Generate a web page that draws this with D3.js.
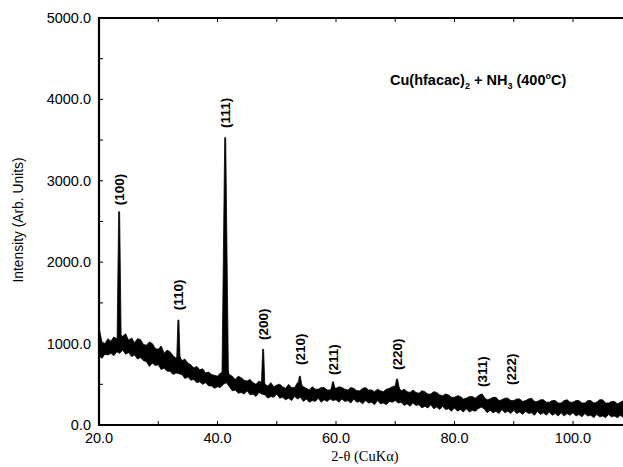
<!DOCTYPE html>
<html lang="en">
<head>
  <meta charset="UTF-8" />
  <title>XRD Cu(hfacac)2 + NH3</title>
  <script src="https://d3js.org/d3.v7.min.js"></script>
  <style>
    body { margin: 0; background: #fff; }
    text { font-family: "Liberation Sans", Arial, sans-serif; fill: #000; }
  </style>
</head>
<body>
  <svg id="chart" width="623" height="467"></svg>
  <script>
    // noisy background band, read every 0.5 degree from 20 to 110
    const bandTheta = d3.range(20, 110.01, 0.5);
    const bandHigh = [
      1200, 1020, 1000, 1060, 1030, 1080, 1060, 1110, 1090, 1120,
      1040, 1070, 1010, 1060, 1050, 990, 980, 1020, 1000, 940,
      930, 970, 880, 920, 900, 850, 820, 860, 790, 810,
      760, 740, 700, 720, 680, 690, 640, 650, 620, 610,
      600, 640, 650, 700, 620, 600, 560, 600, 580, 550,
      540, 560, 520, 500, 540, 520, 500, 480, 520, 470,
      490, 500, 470, 450, 500, 460, 460, 520, 500, 470,
      450, 430, 470, 440, 440, 460, 460, 430, 430, 470,
      450, 470, 460, 440, 430, 460, 450, 420, 420, 450,
      460, 430, 430, 410, 440, 420, 410, 440, 450, 470,
      480, 470, 420, 440, 410, 400, 430, 400, 390, 420,
      410, 380, 380, 410, 400, 370, 360, 380, 370, 340,
      340, 360, 350, 320, 330, 350, 350, 330, 360, 380,
      340, 310, 320, 340, 340, 300, 310, 330, 330, 300,
      300, 320, 320, 290, 300, 320, 330, 290, 290, 310,
      310, 280, 280, 300, 300, 270, 270, 300, 310, 280,
      280, 300, 300, 270, 270, 300, 300, 270, 280, 310,
      310, 270, 270, 290, 290, 260, 280, 300, 270, 260,
      280];
    const bandLow = [
      850, 820, 870, 860, 880, 850, 900, 880, 920, 870,
      890, 840, 860, 810, 830, 790, 780, 720, 760, 730,
      740, 680, 700, 660, 660, 620, 640, 630, 620, 570,
      590, 550, 560, 520, 530, 500, 520, 480, 480, 450,
      470, 460, 500, 520, 470, 420, 430, 390, 400, 380,
      420, 370, 380, 350, 400, 380, 370, 330, 350, 340,
      380, 330, 340, 310, 330, 300, 350, 320, 340, 290,
      320, 280, 300, 290, 330, 280, 310, 290, 320, 300,
      310, 280, 320, 290, 300, 270, 320, 280, 290, 260,
      300, 270, 280, 250, 300, 260, 270, 250, 290, 280,
      300, 270, 280, 240, 260, 230, 270, 240, 250, 210,
      230, 210, 250, 200, 220, 190, 230, 190, 200, 170,
      210, 170, 190, 160, 200, 160, 180, 170, 200, 220,
      200, 150, 180, 150, 170, 140, 190, 150, 170, 140,
      180, 140, 160, 130, 170, 140, 150, 120, 170, 130,
      150, 120, 160, 120, 140, 110, 150, 110, 140, 120,
      150, 110, 130, 100, 140, 110, 120, 90, 130, 100,
      110, 90, 130, 100, 110, 90, 120, 90, 110, 90,
      100];

    // diffraction peaks
    const peakTheta = [23.4, 33.4, 41.3, 47.7, 53.9, 59.5, 70.3, 84.6];
    const peakTop = [2620, 1290, 3530, 930, 600, 530, 565, 380];
    const peakBase = [1000, 760, 560, 460, 430, 430, 410, 330];
    const peakHalf = [0.35, 0.3, 0.55, 0.3, 0.45, 0.35, 0.5, 0.5];

    // Miller index labels
    const hklText = ["(100)", "(110)", "(111)", "(200)", "(210)", "(211)", "(220)", "(311)", "(222)"];
    const hklTheta = [23.4, 33.3, 41.3, 47.7, 53.9, 59.5, 70.3, 84.6, 89.5];
    const hklAt = [2700, 1410, 3650, 1045, 737, 614, 676, 467, 491];

    const yTicks = [0, 1000, 2000, 3000, 4000, 5000];
    const xTicks = [20, 40, 60, 80, 100];

    const svg = d3.select("#chart");
    const x = d3.scaleLinear().domain([20, 110]).range([99, 632.25]);
    const y = d3.scaleLinear().domain([0, 5000]).range([425, 18]);

    svg.append("clipPath").attr("id", "plot")
      .append("rect").attr("x", 99).attr("y", 0).attr("width", 524).attr("height", 426);

    const g = svg.append("g").attr("clip-path", "url(#plot)");

    const band = bandTheta.map((t, i) => ({ t, lo: bandLow[i], hi: bandHigh[i] }));
    g.append("path")
      .datum(band)
      .attr("fill", "#000")
      .attr("stroke", "#000")
      .attr("stroke-width", 0.8)
      .attr("d", d3.area().x(d => x(d.t)).y0(d => y(d.lo)).y1(d => y(d.hi)));

    // peaks as thin triangles sitting on the band
    const peakArea = d3.area().x(d => x(d.t)).y0(d => y(d.b)).y1(d => y(d.v));
    peakTheta.forEach((p, i) => {
      const b = peakBase[i];
      const pts = [
        { t: p - peakHalf[i], v: b, b },
        { t: p - 0.08, v: peakTop[i], b },
        { t: p + 0.08, v: peakTop[i], b },
        { t: p + peakHalf[i], v: b, b }
      ];
      g.append("path").datum(pts)
        .attr("fill", "#000").attr("stroke", "#000").attr("stroke-width", 0.8)
        .attr("d", peakArea);
    });

    // axes frame
    svg.append("line").attr("x1", 99).attr("x2", 623).attr("y1", y(5000)).attr("y2", y(5000))
      .attr("stroke", "#000").attr("stroke-width", 2.2);
    svg.append("line").attr("x1", 99).attr("x2", 623).attr("y1", y(0)).attr("y2", y(0))
      .attr("stroke", "#000").attr("stroke-width", 2.2);
    svg.append("line").attr("x1", 99).attr("x2", 99).attr("y1", y(5000) - 1).attr("y2", y(0) + 1)
      .attr("stroke", "#000").attr("stroke-width", 2.2);

    // inward ticks
    const minorX = d3.range(20, 111, 10);
    svg.selectAll(".xt").data(minorX).enter().append("line")
      .attr("x1", d => x(d)).attr("x2", d => x(d))
      .attr("y1", y(0)).attr("y2", y(0) - 4)
      .attr("stroke", "#000").attr("stroke-width", 1);
    svg.selectAll(".xtt").data(minorX).enter().append("line")
      .attr("x1", d => x(d)).attr("x2", d => x(d))
      .attr("y1", y(5000)).attr("y2", y(5000) + 4)
      .attr("stroke", "#000").attr("stroke-width", 1);
    svg.selectAll(".yt").data(d3.range(0, 5001, 500)).enter().append("line")
      .attr("x1", 99).attr("x2", 103)
      .attr("y1", d => y(d)).attr("y2", d => y(d))
      .attr("stroke", "#000").attr("stroke-width", 1);

    // tick labels
    svg.selectAll(".yl").data(yTicks).enter().append("text")
      .attr("x", 91).attr("y", d => y(d)).attr("dy", "0.35em")
      .attr("text-anchor", "end").style("font-size", "14.5px")
      .text(d => d3.format(".1f")(d));
    svg.selectAll(".xl").data(xTicks).enter().append("text")
      .attr("x", d => x(d)).attr("y", 443)
      .attr("text-anchor", "middle").style("font-size", "14.5px")
      .text(d => d3.format(".1f")(d));

    // axis titles
    svg.append("text")
      .attr("transform", "translate(23,220) rotate(-90)")
      .attr("text-anchor", "middle").style("font-size", "13.8px")
      .text("Intensity (Arb. Units)");
    svg.append("text")
      .attr("x", 365).attr("y", 461)
      .attr("text-anchor", "middle")
      .style("font-family", "'Liberation Serif', 'Times New Roman', serif").style("font-size", "14.5px")
      .text("2-\u03b8 (CuK\u03b1)");

    // peak labels
    svg.selectAll(".hkl").data(hklText).enter().append("text")
      .attr("transform", (d, i) => `translate(${x(hklTheta[i])},${y(hklAt[i])}) rotate(-90)`)
      .attr("dy", "0.36em")
      .style("font-size", "13.5px").style("font-weight", "bold")
      .text(d => d);

    // sample annotation
    const note = svg.append("text").attr("x", 390).attr("y", 85)
      .style("font-size", "14.5px").style("font-weight", "bold");
    note.append("tspan").text("Cu(hfacac)");
    note.append("tspan").attr("dy", 4).style("font-size", "9px").text("2");
    note.append("tspan").attr("dy", -4).text(" + NH");
    note.append("tspan").attr("dy", 4).style("font-size", "9px").text("3");
    note.append("tspan").attr("dy", -4).text(" (400");
    note.append("tspan").attr("dy", -6).style("font-size", "9px").text("o");
    note.append("tspan").attr("dy", 6).text("C)");
  </script>
</body>
</html>
